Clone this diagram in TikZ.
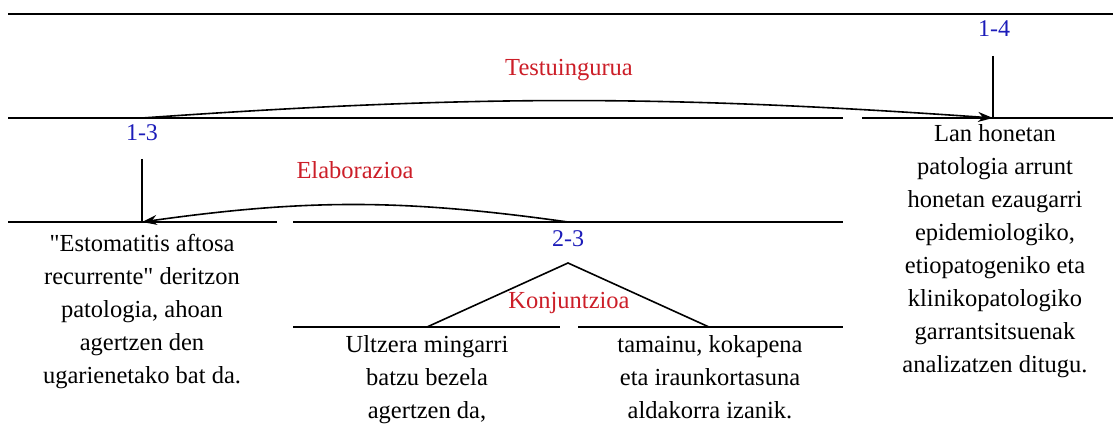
\documentclass[tikz,border=0pt]{standalone}
\usepackage{fontspec}
\setmainfont{Liberation Serif}
\usetikzlibrary{arrows.meta}
\definecolor{relred}{RGB}{204,30,40}
\definecolor{spanblue}{RGB}{28,28,185}
\tikzset{
	txt/.style={font=\fontsize{24.5}{33}\selectfont,align=center,inner sep=0pt,anchor=north},
	rellbl/.style={font=\fontsize{24.5}{29}\selectfont,text=relred,inner sep=0pt,anchor=base},
	spanlbl/.style={font=\fontsize{24}{29}\selectfont,text=spanblue,inner sep=0pt,anchor=base}
}
\begin{document}
\begin{tikzpicture}[>={Stealth[length=15pt,width=10pt]},x=1pt,y=1pt,line width=1.6pt]
			\useasboundingbox (0,0) rectangle (1113,426);
			% segmentuak
			\draw (8,412) -- (1113,412);
			\draw (8,308) -- (843,308) (862,308) -- (1113,308);
			\draw (8,204) -- (277,204) (293,204) -- (843,204);
			\draw (293,99) -- (560,99) (578,99) -- (843,99);
			\coordinate (s13) at (142,308);
			\coordinate (s14) at (993,308);
			\coordinate (v14) at (993,370);
			\coordinate (e13) at (142,204);
			\coordinate (v13) at (142,267);
			\coordinate (e23) at (568,204);
			\coordinate (apex) at (568,163);
			\coordinate (k1) at (427,99);
			\coordinate (k2) at (709,99);
			\node[spanlbl] (n14) at (994,389) {1-4};
			\node[spanlbl] (n13) at (142,285) {1-3};
			\node[spanlbl] (n23) at (568,179) {2-3};
			\node[rellbl] (testu) at (569,350) {Testuingurua};
			\node[rellbl] (elab) at (355,247) {Elaborazioa};
			\node[rellbl] (konj) at (569,118) {Konjuntzioa};
			\node[txt] (t1) at (142,192.7) {\textquotedbl Estomatitis aftosa\\recurrente\textquotedbl{} deritzon\\patologia, ahoan\\agertzen den\\ugarienetako bat da.};
			\node[txt] (t2) at (427,91.7) {Ultzera mingarri\\batzu bezela\\agertzen da,};
			\node[txt] (t3) at (710,91.7) {tamainu, kokapena\\eta iraunkortasuna\\aldakorra izanik.};
			\node[txt] (t4) at (995,302.7) {Lan honetan\\patologia arrunt\\honetan ezaugarri\\epidemiologiko,\\etiopatogeniko eta\\klinikopatologiko\\garrantsitsuenak\\analizatzen ditugu.};
			\draw (v14) -- (s14);
			\draw (v13) -- (e13);
			\draw (k1) -- (apex) -- (k2);
			\draw[->] (s13) to[bend left=4] (s14);
			\draw[->] (e23) to[bend right=8] (e13);
	\end{tikzpicture}
\end{document}
